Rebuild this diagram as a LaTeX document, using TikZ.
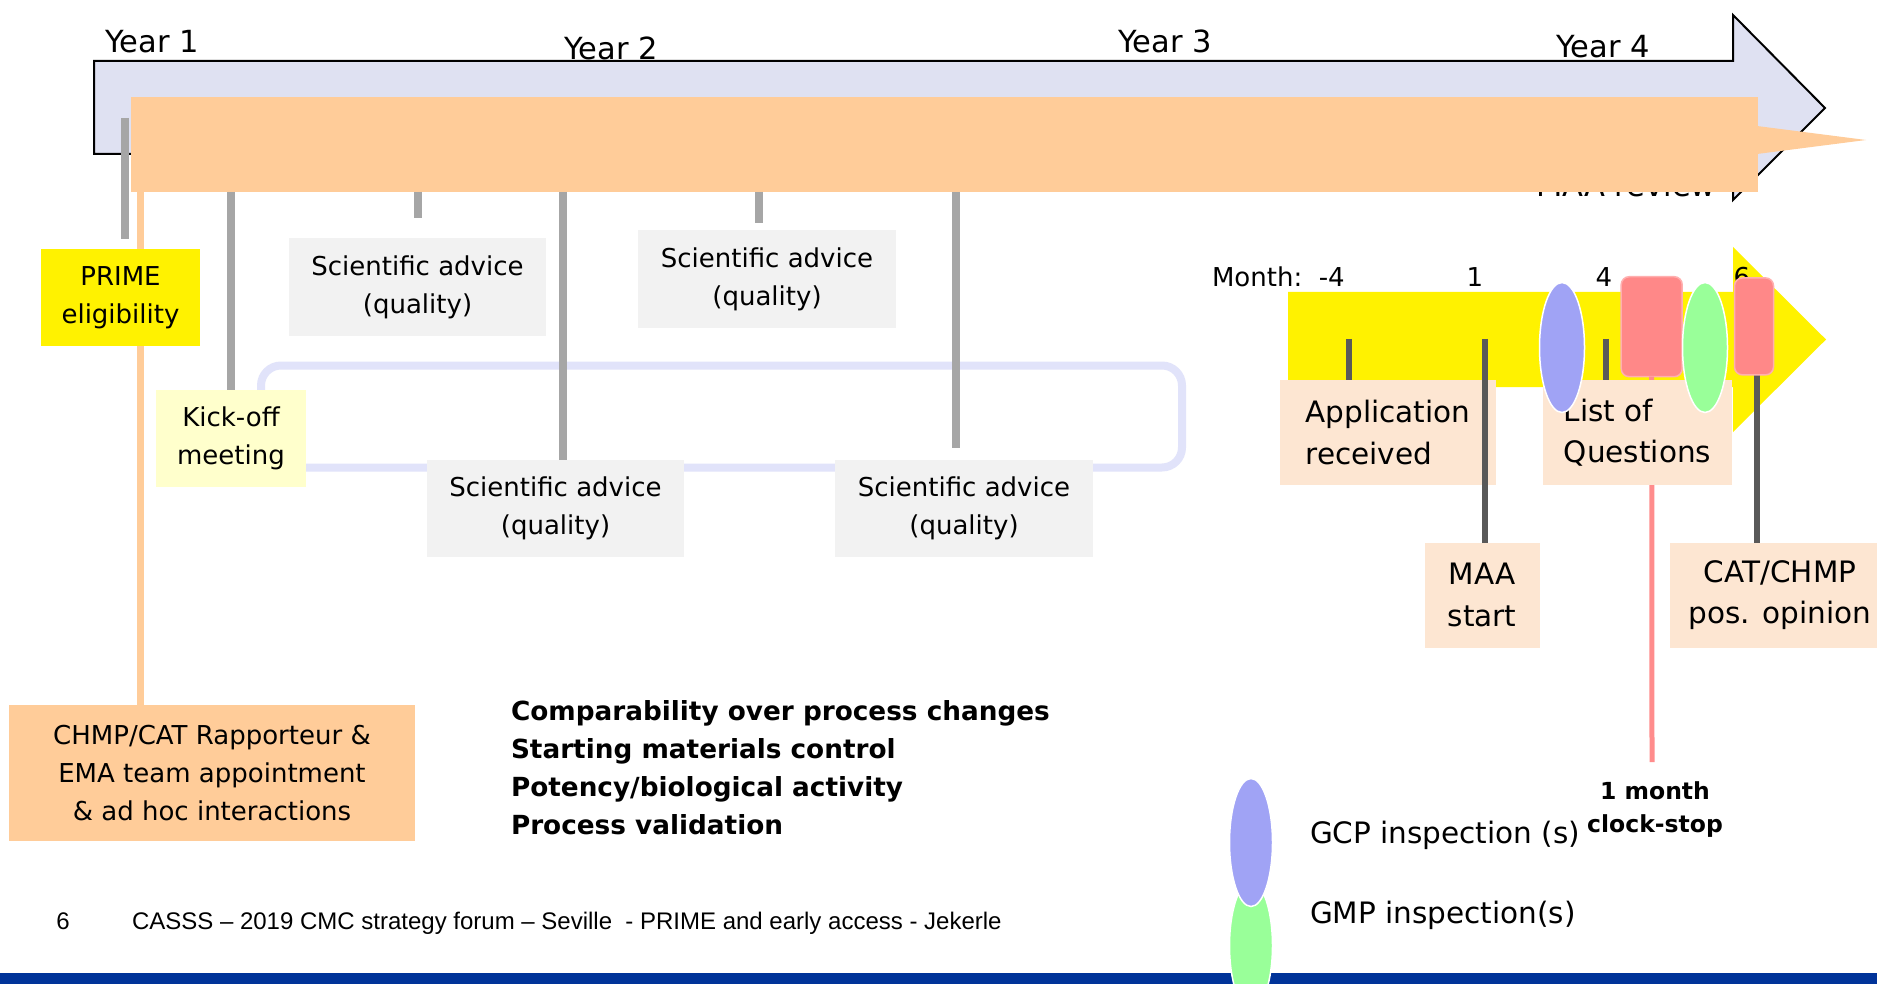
\documentclass[tikz,border=0pt]{standalone}
\usepackage{fontspec}
\setmainfont{DejaVu Sans}
\newfontfamily\footfont{Liberation Sans}
\usetikzlibrary{shapes.geometric,calc}
\definecolor{lav}{RGB}{223,225,242}
\definecolor{peach}{RGB}{255,204,153}
\definecolor{tickgray}{RGB}{166,166,166}
\definecolor{kickyellow}{RGB}{255,255,204}
\definecolor{sagray}{RGB}{242,242,242}
\definecolor{loopblue}{RGB}{225,227,250}
\definecolor{lightpeach}{RGB}{253,230,210}
\definecolor{darkgray}{RGB}{89,89,89}
\definecolor{redbox}{RGB}{255,136,136}
\definecolor{rededge}{RGB}{255,175,175}
\definecolor{redline}{RGB}{255,140,140}
\definecolor{inspblue}{RGB}{160,163,245}
\definecolor{inspgreen}{RGB}{153,255,153}
\definecolor{barblue}{RGB}{0,51,153}
\begin{document}
\begin{tikzpicture}[x=1pt,y=-1pt,
  every node/.style={inner sep=0pt,outer sep=0pt},
  bigtxt/.style={font=\fontsize{30.5}{36}\selectfont},
  midtxt/.style={font=\fontsize{26}{38}\selectfont},
  rtxt/.style={font=\fontsize{29.5}{41.5}\selectfont},
  boldtxt/.style={font=\fontsize{26.3}{38.2}\selectfont\bfseries},
  smallbold/.style={font=\fontsize{23.5}{33}\selectfont\bfseries},
  foottxt/.style={font=\footfont\fontsize{24}{28}\selectfont},
  graybox/.style={midtxt,fill=sagray,align=center},
  rbox/.style={rtxt,fill=lightpeach},
  tick/.style={draw=tickgray,line width=7.5pt},
  dtick/.style={draw=darkgray,line width=6pt},
  insp/.style={ellipse,draw=white,line width=1.5pt},
  redbx/.style={fill=redbox,draw=rededge,line width=1.5pt,rounded corners=8pt},
]
\useasboundingbox (0,0) rectangle (1877,984);
\fill[white] (0,0) rectangle (1877,984);

% year labels
\node[bigtxt,anchor=base west] (y1) at (105,53) {Year 1};
\node[bigtxt,anchor=base west] (y2) at (564,60) {Year 2};
\node[bigtxt,anchor=base west] (y3) at (1118,53) {Year 3};
\node[bigtxt,anchor=base west] (y4) at (1556,58) {Year 4};

% hidden label behind band
\node[bigtxt,anchor=base] (maarev) at (1626,196.5) {MAA review};

% timeline arrow
\draw[fill=lav,line width=2pt] (94,61) -- (1733,61) -- (1733,15) -- (1825,108) -- (1733,200) -- (1733,154) -- (94,154) -- cycle;
\coordinate (t1top) at (125,118);
\coordinate (t1bot) at (125,239);
\draw[tick] (t1top) -- (t1bot);

% orange band
\node[fill=peach,minimum width=1627pt,minimum height=95pt] (band) at (944.5,144.5) {};
\fill[peach] (1757,126) -- (1866,140) -- (1757,154) -- cycle;

% loop
\draw[draw=loopblue,line width=8pt,rounded corners=20pt] (261,365.5) rectangle (1182,467.5);

% CHMP box and its line
\node[midtxt,fill=peach,align=center,minimum width=406pt,minimum height=136pt] (chmp) at (212,773) {CHMP/CAT Rapporteur \&\\EMA team appointment\\\& ad hoc interactions};
\coordinate (ox) at (140,0);
\draw[draw=peach,line width=7pt] (ox |- band.south) -- (ox |- chmp.north);

% left boxes
\node[midtxt,fill=yellow,align=center,minimum width=159pt,minimum height=97pt] (prime) at (120.5,297.5) {PRIME\\eligibility};
\node[midtxt,fill=kickyellow,align=center,minimum width=150pt,minimum height=97pt] (kick) at (231,438.5) {Kick-off\\meeting};
\node[graybox,minimum width=257pt,minimum height=98pt] (sa1) at (417.5,287) {Scientific advice\\(quality)};
\node[graybox,minimum width=258pt,minimum height=98pt] (sa2) at (767,279) {Scientific advice\\(quality)};
\node[graybox,minimum width=257pt,minimum height=97pt] (sa3) at (555.5,508.5) {Scientific advice\\(quality)};
\node[graybox,minimum width=258pt,minimum height=97pt] (sa4) at (964,508.5) {Scientific advice\\(quality)};

% ticks from band
\draw[tick] (band.south -| kick.north) -- (kick.north);
\coordinate (s1x) at (418,218);
\draw[tick] (band.south -| s1x) -- (s1x);
\coordinate (s3x) at (563,0);
\draw[tick] (band.south -| s3x) -- (sa3.north -| s3x);
\coordinate (s2x) at (759,222.7);
\draw[tick] (band.south -| s2x) -- (s2x);
\coordinate (s4x) at (956,448);
\draw[tick] (band.south -| s4x) -- (s4x);

% topics (base = last line)
\node[boldtxt,anchor=base west,align=left] (topics) at (511,834.6) {Comparability over process changes\\Starting materials control\\Potency/biological activity\\Process validation};

% footer
\fill[barblue] (0,973) rectangle (1877,984);
\node[foottxt,anchor=base] (pagenum) at (63,929) {6};
\node[foottxt,anchor=base west] (footer) at (132,929) {CASSS – 2019 CMC strategy forum – Seville\ \ - PRIME and early access - Jekerle};

% MAA timeline
\fill[yellow] (1288,292) -- (1733,292) -- (1733,247) -- (1826,339.5) -- (1733,432) -- (1733,387) -- (1288,387) -- cycle;
\node[midtxt,anchor=base west] (month) at (1212,287) {Month:\ \ -4};
\node[midtxt,anchor=base] (m1) at (1475,287) {1};
\node[midtxt,anchor=base] (m4) at (1604,287) {4};
\node[midtxt,anchor=base] (m6) at (1742,287) {6};

\node[redbx,minimum width=61pt,minimum height=100pt] (red1) at (1651.7,326.7) {};
\coordinate (clockend) at (1652,762);
\draw[draw=redline,line width=5pt] (red1.south) -- (clockend);

\node[rbox,align=left,minimum width=216pt,minimum height=105pt] (app) at (1388,432.5) {Application\\received};
\node[rbox,align=left,minimum width=189pt,minimum height=105pt] (loq) at (1637.5,432.5) {List of\\Questions};
\node[rbox,align=center,minimum width=115pt,minimum height=105pt] (maa) at (1482,595.2) {MAA\\start};
\node[rbox,align=center,minimum width=220pt,minimum height=105pt] (cat) at (1780,595.2) {CAT/CHMP\\pos. opinion};

\coordinate (da) at (1349,339);
\draw[dtick] (da) -- (da |- app.north);
\coordinate (dm) at (1484.5,339);
\draw[dtick] (dm) -- (dm |- maa.north);
\coordinate (dq) at (1606,339);
\draw[dtick] (dq) -- (dq |- loq.north);
\coordinate (dc) at (1757,339);
\draw[dtick] (dc) -- (dc |- cat.north);

\node[redbx,minimum width=39pt,minimum height=97pt] (red2) at (1754,326.4) {};
\node[insp,fill=inspblue,minimum width=45pt,minimum height=130pt] (gcp1) at (1562,347.5) {};
\node[insp,fill=inspgreen,minimum width=45pt,minimum height=130pt] (gmp1) at (1705,347.5) {};

\node[smallbold,align=center,anchor=base] (clock) at (1655,832) {1 month\\clock-stop};

% legend
\node[insp,fill=inspgreen,minimum width=43pt,minimum height=128pt] (gmpleg) at (1251,945.7) {};
\node[insp,fill=inspblue,minimum width=43pt,minimum height=128pt] (gcpleg) at (1251,842.5) {};
\node[rtxt,anchor=base west] (gcptxt) at (1310,843) {GCP inspection (s)};
\node[rtxt,anchor=base west] (gmptxt) at (1310,923) {GMP inspection(s)};
\end{tikzpicture}
\end{document}
